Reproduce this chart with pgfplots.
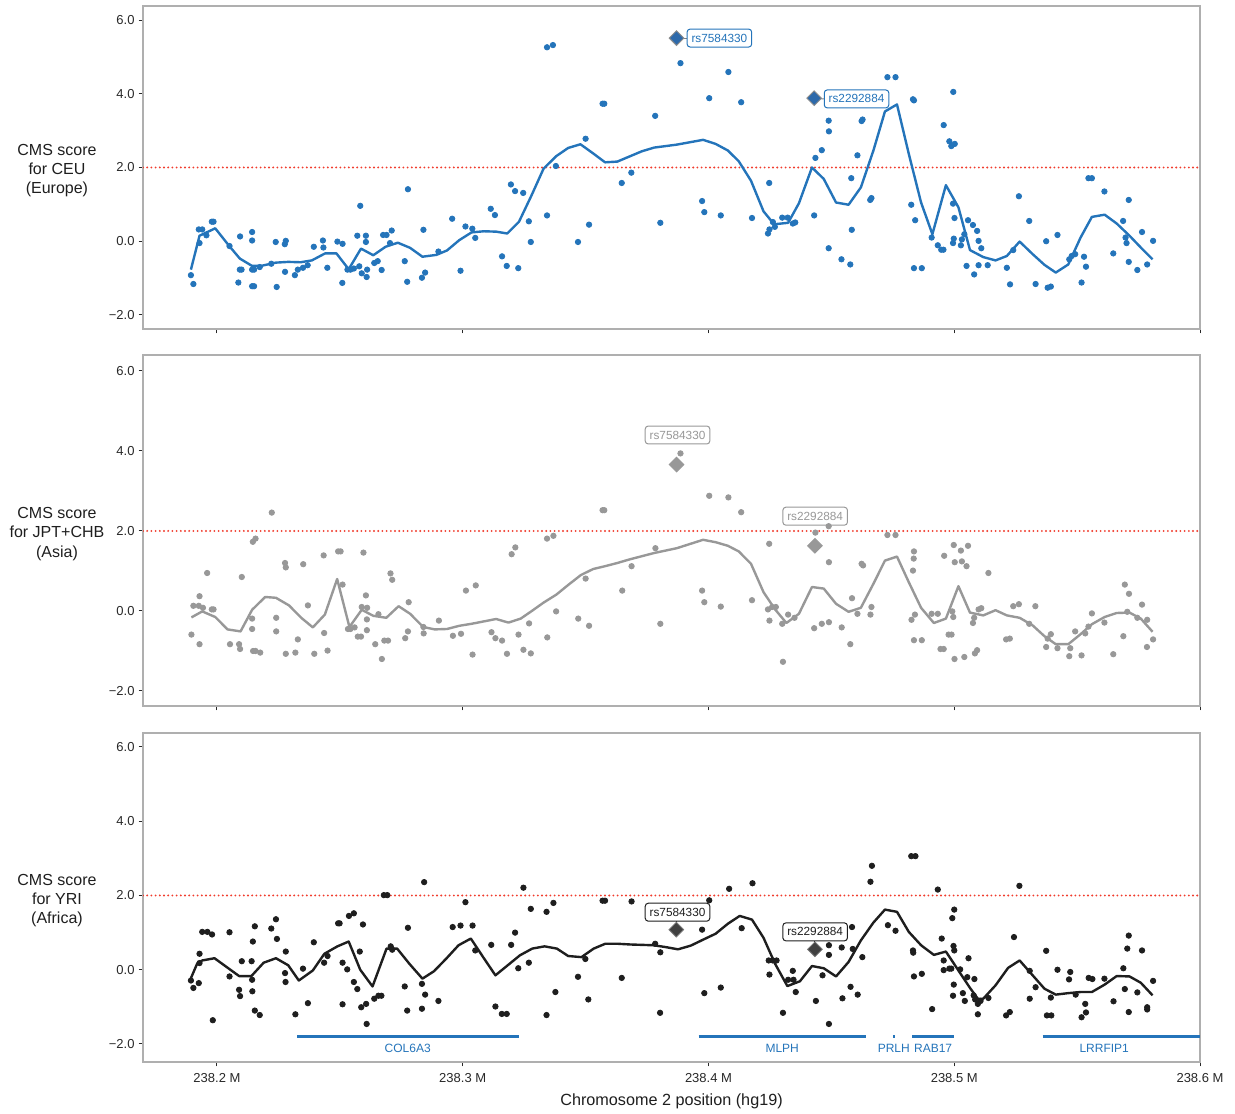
\documentclass[border=0pt]{standalone}
\usepackage{fontspec}
\setmainfont{Liberation Sans}
\usepackage{pgfplots}
\pgfplotsset{compat=1.18}
\definecolor{cblue}{RGB}{36,116,186}
\definecolor{cgray}{RGB}{152,152,152}
\definecolor{cblack}{RGB}{30,30,30}
\definecolor{dblue}{RGB}{45,105,170}
\definecolor{redl}{RGB}{240,60,45}
\definecolor{framec}{RGB}{175,175,175}
\definecolor{tickc}{RGB}{40,40,40}
\tikzset{rsbox/.style={draw, fill=white, rounded corners=1.5pt, line width=0.5pt, inner xsep=2.2pt, inner ysep=2.4pt, font=\fontsize{5.9}{6.5}\selectfont}}
\pgfplotsset{
  panel/.style={
    scale only axis, width=528.5pt, xmin=238.1699, xmax=238.6,
    axis line style={draw=framec, line width=0.6pt},
    tick align=outside, major tick length=2.2pt,
    tick style={draw=tickc, line width=0.5pt},
    xtick={238.2,238.3,238.4,238.5,238.6},
    ytick={-2,0,2,4,6},
    yticklabels={−2.0,0.0,2.0,4.0,6.0},
    xtick pos=bottom, ytick pos=left,
    ticklabel style={font=\fontsize{6.5}{7.5}\selectfont, text=tickc},
    y tick label style={xshift=1.5pt},
    every axis y label/.style={at={(axis description cs:-0.0814,0.49)}, anchor=center, align=center, font=\fontsize{8}{9.6}\selectfont, text=cblack},
  },
  pts/.style={only marks, mark=*, mark size=1.35pt},
  redline/.style={redl, line width=1.05pt, line cap=round, dash pattern=on 0pt off 2.1pt},
}
\begin{document}
\begin{tikzpicture}
\useasboundingbox (0,0) rectangle (617.5pt,556.5pt);
% ---------------- Panel 1: CEU ----------------
\begin{axis}[panel, at={(71.5pt,392pt)}, anchor=south west, height=161.5pt,
  ymin=-2.38, ymax=6.38, xticklabels={},
  ylabel={CMS score\\for CEU\\(Europe)}]
\addplot[redline] coordinates {(238.1699,2) (238.6,2)};
\addplot[pts, cblue] coordinates {
(238.1894,-0.92) (238.1904,-1.16) (238.1926,0.32) (238.1940,0.32) (238.1929,-0.05) (238.1957,0.16) (238.1979,0.53) (238.1986,0.53) (238.2051,-0.13) (238.2087,-1.12) (238.2093,-0.77) (238.2100,-0.77) (238.2094,0.13) (238.2143,0.25) (238.2143,0.02) (238.2143,-0.77) (238.2151,-0.77) (238.2143,-1.22) (238.2151,-1.22) (238.2174,-0.70) (238.2221,-0.61) (238.2239,-0.02) (238.2243,-1.24) (238.2276,-0.08) (238.2280,0.01) (238.2277,-0.83) (238.2317,-0.92) (238.2329,-0.77) (238.2350,-0.72) (238.2369,-0.65) (238.2394,-0.15) (238.2431,0.02) (238.2433,-0.17) (238.2449,-0.72) (238.2490,-0.01) (238.2511,-0.07) (238.2510,-1.13) (238.2531,-0.77) (238.2543,-0.77) (238.2557,-0.74) (238.2579,-0.68) (238.2571,0.15) (238.2583,0.96) (238.2606,0.15) (238.2606,-0.02) (238.2589,-0.87) (238.2609,-0.97) (238.2611,-0.77) (238.2640,-0.59) (238.2654,-0.54) (238.2670,-0.78) (238.2676,0.17) (238.2690,0.17) (238.2711,0.29) (238.2704,-0.05) (238.2764,-0.54) (238.2777,1.41) (238.2774,-1.10) (238.2840,0.31) (238.2847,-0.85) (238.2834,-0.99) (238.2901,-0.28) (238.2957,0.61) (238.2991,-0.80) (238.3011,0.40) (238.3039,0.34) (238.3051,0.09) (238.3114,0.88) (238.3131,0.71) (238.3160,-0.41) (238.3179,-0.67) (238.3226,-0.73) (238.3196,1.54) (238.3213,1.36) (238.3246,1.31) (238.3269,0.54) (238.3277,-0.02) (238.3343,5.26) (238.3367,5.32) (238.3343,0.70) (238.3379,2.04) (238.3469,-0.02) (238.3500,2.78) (238.3514,0.45) (238.3569,3.73) (238.3576,3.73) (238.3647,1.58) (238.3686,1.86) (238.3783,3.40) (238.3804,0.50) (238.3886,4.83)
(238.4081,4.59) (238.4003,3.88) (238.4133,3.77) (238.3974,1.09) (238.3983,0.79) (238.4050,0.70) (238.4177,0.63) (238.4247,1.58) (238.4242,0.21) (238.4248,0.32) (238.4262,0.52) (238.4270,0.39) (238.4300,0.64) (238.4322,0.64) (238.4343,0.48) (238.4353,0.51) (238.4430,0.70) (238.4435,2.26) (238.4461,2.47) (238.4489,3.27) (238.4490,2.98) (238.4489,-0.19) (238.4541,-0.49) (238.4577,-0.63) (238.4583,0.31) (238.4581,1.71) (238.4606,2.33) (238.4623,3.26) (238.4627,3.30) (238.4658,1.12) (238.4663,1.17) (238.4728,4.45) (238.4761,4.45) (238.4825,0.99) (238.4841,0.57) (238.4832,3.85) (238.4836,3.82) (238.4836,-0.73) (238.4868,-0.73) (238.4908,0.10) (238.4933,-0.11) (238.4947,-0.23) (238.4956,-0.23) (238.4957,3.15) (238.4980,2.71) (238.4988,2.58) (238.5002,2.64) (238.4996,4.05) (238.4995,1.02) (238.5001,0.63) (238.4998,0.07) (238.4995,-0.05) (238.5027,-0.11) (238.5031,0.05) (238.5041,0.19) (238.5056,0.57) (238.5076,0.44) (238.5093,0.28) (238.5099,0.01) (238.5110,-0.19) (238.5050,-0.67) (238.5081,-0.90) (238.5099,-0.65) (238.5136,-0.65) (238.5214,-0.72) (238.5227,-1.17) (238.5240,-0.24) (238.5263,1.22) (238.5305,0.55) (238.5331,-1.16) (238.5374,0.00) (238.5380,-1.26) (238.5393,-1.23) (238.5420,0.17) (238.5468,-0.49) (238.5478,-0.40) (238.5492,-0.35) (238.5518,-1.12) (238.5528,-0.42) (238.5536,-0.69) (238.5546,1.71) (238.5560,1.71) (238.5611,1.35) (238.5647,-0.33) (238.5687,0.55) (238.5697,0.10) (238.5701,-0.05) (238.5710,1.12) (238.5710,-0.56) (238.5745,-0.78) (238.5764,0.25) (238.5785,-0.63) (238.5809,0.01)
};
\addplot[cblue, line width=1.2pt, line join=round] coordinates {
(238.1894,-0.77) (238.1929,0.15) (238.1993,0.35) (238.2050,-0.13) (238.2093,-0.47) (238.2143,-0.67) (238.2179,-0.67) (238.2240,-0.58) (238.2290,-0.56) (238.2340,-0.57) (238.2386,-0.52) (238.2440,-0.33) (238.2486,-0.33) (238.2536,-0.76) (238.2586,-0.20) (238.2636,-0.38) (238.2686,-0.15) (238.2736,-0.04) (238.2786,-0.18) (238.2836,-0.42) (238.2893,-0.37) (238.2936,-0.25) (238.2986,0.03) (238.3036,0.24) (238.3086,0.27) (238.3136,0.26) (238.3181,0.21) (238.3229,0.53) (238.3279,1.23) (238.3329,1.97) (238.3381,2.31) (238.3429,2.53) (238.3479,2.63) (238.3529,2.39) (238.3579,2.14) (238.3629,2.16) (238.3679,2.30) (238.3729,2.44) (238.3779,2.54) (238.3871,2.62) (238.3978,2.75) (238.4029,2.64) (238.4079,2.46) (238.4123,2.17) (238.4173,1.64) (238.4224,0.81) (238.4267,0.46) (238.4324,0.50) (238.4368,1.03) (238.4421,2.00) (238.4469,1.69) (238.4519,1.05) (238.4570,0.99) (238.4620,1.46) (238.4671,2.46) (238.4718,3.52) (238.4767,3.71) (238.4815,2.37) (238.4865,1.05) (238.4911,0.19) (238.4966,1.52) (238.5017,0.92) (238.5064,-0.24) (238.5118,-0.43) (238.5168,-0.52) (238.5214,-0.40) (238.5266,-0.01) (238.5319,-0.35) (238.5367,-0.64) (238.5413,-0.85) (238.5464,-0.63) (238.5514,0.10) (238.5560,0.66) (238.5612,0.72) (238.5661,0.48) (238.5713,0.15) (238.5759,-0.17) (238.5807,-0.49)
};
\draw[gray, line width=0.5pt] (axis cs:238.387,5.51) -- (axis cs:238.3911,5.51);
\draw[gray, line width=0.5pt] (axis cs:238.443,3.88) -- (axis cs:238.4469,3.86);
\addplot[only marks, mark=square*, mark size=2.6pt, mark options={rotate=45, fill=dblue, draw=gray!90, line width=0.45pt}] coordinates {(238.387,5.51) (238.443,3.88)};
\node[rsbox, draw=cblue, text=cblue, anchor=west] at (axis cs:238.3911,5.51) {rs7584330};
\node[rsbox, draw=cblue, text=cblue, anchor=west] at (axis cs:238.4469,3.86) {rs2292884};
\end{axis}
% ---------------- Panel 2: JPT+CHB ----------------
\begin{axis}[panel, at={(71.5pt,203.5pt)}, anchor=south west, height=175.5pt,
  ymin=-2.375, ymax=6.4, xticklabels={},
  ylabel={CMS score\\for JPT+CHB\\(Asia)}]
\addplot[redline] coordinates {(238.1699,2) (238.6,2)};
\addplot[pts, cgray] coordinates {
(238.1896,-0.59) (238.1904,0.13) (238.1929,0.37) (238.1929,-0.83) (238.1926,0.13) (238.1943,0.08) (238.1960,0.95) (238.1979,0.04) (238.1986,0.04) (238.2053,-0.83) (238.2090,-0.83) (238.2094,-0.95) (238.2101,0.85) (238.2143,-0.19) (238.2143,-0.45) (238.2146,1.73) (238.2157,1.81) (238.2147,-1.00) (238.2157,-1.00) (238.2176,-1.04) (238.2223,2.46) (238.2241,-0.17) (238.2241,-0.51) (238.2277,1.20) (238.2280,1.09) (238.2280,-1.07) (238.2319,-1.04) (238.2329,-0.71) (238.2351,1.17) (238.2370,0.14) (238.2396,-1.07) (238.2434,1.39) (238.2436,-0.55) (238.2450,-0.99) (238.2493,1.49) (238.2503,1.49) (238.2511,0.66) (238.2533,-0.45) (238.2543,-0.45) (238.2560,-0.41) (238.2573,-0.64) (238.2586,-0.64) (238.2589,0.10) (238.2596,1.46) (238.2606,0.39) (238.2611,0.08) (238.2610,-0.21) (238.2610,-0.48) (238.2644,-0.83) (238.2657,-0.08) (238.2671,-1.20) (238.2681,-0.74) (238.2696,-0.74) (238.2706,0.94) (238.2713,0.78) (238.2766,-0.68) (238.2777,-0.51) (238.2780,0.22) (238.2840,-0.40) (238.2841,-0.56) (238.2903,-0.24) (238.2960,-0.62) (238.2993,-0.57) (238.3013,0.51) (238.3040,-1.09) (238.3053,0.64) (238.3117,-0.53) (238.3133,-0.68) (238.3160,-0.74) (238.3180,-1.07) (238.3199,1.42) (238.3214,1.59) (238.3227,-0.59) (238.3247,-0.97) (238.3270,-0.31) (238.3277,-1.06) (238.3343,1.81) (238.3369,1.88) (238.3344,-0.66) (238.3380,-0.01) (238.3470,-0.19) (238.3500,0.81) (238.3514,-0.37) (238.3569,2.52) (238.3576,2.52) (238.3649,0.51) (238.3687,1.12) (238.3784,1.57) (238.3804,-0.32) (238.3886,3.94)
(238.4003,2.88) (238.4081,2.84) (238.4133,2.47) (238.3974,0.51) (238.3983,0.22) (238.4050,0.11) (238.4177,0.27) (238.4247,1.68) (238.4242,0.04) (238.4248,-0.24) (238.4259,0.10) (238.4274,0.10) (238.4300,-0.32) (238.4303,-1.27) (238.4324,-0.09) (238.4350,-0.17) (238.4430,-0.43) (238.4435,1.96) (238.4461,-0.32) (238.4489,2.12) (238.4490,1.22) (238.4490,-0.28) (238.4542,-0.41) (238.4577,-0.83) (238.4584,0.32) (238.4606,-0.07) (238.4623,1.18) (238.4629,1.14) (238.4659,-0.09) (238.4663,0.10) (238.4728,1.90) (238.4761,1.90) (238.4826,-0.22) (238.4840,-0.09) (238.4836,1.49) (238.4835,1.31) (238.4832,1.01) (238.4836,-0.73) (238.4868,-0.73) (238.4908,-0.07) (238.4933,-0.07) (238.4944,-0.95) (238.4957,-0.95) (238.4959,1.38) (238.4977,-0.59) (238.4989,-0.59) (238.4992,-0.01) (238.4996,-0.15) (238.4998,1.65) (238.5001,-1.20) (238.5002,1.22) (238.5027,1.51) (238.5031,1.24) (238.5041,-1.15) (238.5050,1.12) (238.5056,1.63) (238.5076,-0.30) (238.5081,-0.17) (238.5084,-1.06) (238.5093,-0.98) (238.5099,0.04) (238.5110,0.07) (238.5139,0.95) (238.5211,-0.71) (238.5226,-0.69) (238.5240,0.12) (238.5263,0.17) (238.5305,-0.32) (238.5330,0.12) (238.5374,-0.90) (238.5380,-0.69) (238.5393,-0.58) (238.5420,-0.93) (238.5468,-1.13) (238.5472,-0.93) (238.5492,-0.51) (238.5518,-1.11) (238.5533,-0.56) (238.5546,-0.39) (238.5560,-0.06) (238.5611,-0.29) (238.5647,-1.08) (238.5688,-0.63) (238.5694,0.66) (238.5711,0.43) (238.5704,-0.02) (238.5745,-0.17) (238.5764,0.16) (238.5784,-0.90) (238.5785,-0.22) (238.5809,-0.71)
};
\addplot[cgray, line width=1.2pt, line join=round] coordinates {
(238.1896,-0.16) (238.1940,-0.01) (238.1993,-0.15) (238.2043,-0.46) (238.2096,-0.51) (238.2143,0.03) (238.2196,0.35) (238.2240,0.33) (238.2293,0.14) (238.2343,-0.17) (238.2390,-0.41) (238.2439,-0.09) (238.2489,0.80) (238.2539,-0.40) (238.2589,0.03) (238.2636,-0.12) (238.2689,-0.17) (238.2739,0.12) (238.2786,-0.07) (238.2839,-0.40) (238.2886,-0.46) (238.2936,-0.45) (238.2986,-0.37) (238.3036,-0.32) (238.3086,-0.26) (238.3136,-0.20) (238.3186,-0.29) (238.3236,-0.19) (238.3281,0.00) (238.3329,0.21) (238.3381,0.41) (238.3431,0.66) (238.3481,0.90) (238.3531,1.05) (238.3579,1.12) (238.3629,1.20) (238.3679,1.29) (238.3729,1.37) (238.3779,1.45) (238.3871,1.57) (238.3978,1.78) (238.4029,1.72) (238.4079,1.63) (238.4123,1.49) (238.4173,1.18) (238.4224,0.47) (238.4271,0.04) (238.4317,-0.30) (238.4368,-0.07) (238.4421,0.60) (238.4469,0.56) (238.4519,0.18) (238.4570,-0.02) (238.4620,0.08) (238.4671,0.68) (238.4718,1.26) (238.4767,1.36) (238.4815,0.72) (238.4865,0.08) (238.4917,-0.30) (238.4966,-0.19) (238.5017,0.62) (238.5064,-0.04) (238.5118,-0.11) (238.5168,0.02) (238.5214,-0.11) (238.5266,-0.17) (238.5319,-0.36) (238.5367,-0.63) (238.5413,-0.83) (238.5464,-0.83) (238.5514,-0.58) (238.5560,-0.33) (238.5612,-0.15) (238.5661,-0.05) (238.5713,-0.04) (238.5759,-0.19) (238.5807,-0.52)
};
\addplot[only marks, mark=square*, mark size=2.6pt, mark options={rotate=45, fill=cgray, draw=cgray}] coordinates {(238.387,3.66) (238.4433,1.63)};
\node[rsbox, draw=cgray, text=cgray] at (axis cs:238.3874,4.40) {rs7584330};
\node[rsbox, draw=cgray, text=cgray] at (axis cs:238.4434,2.37) {rs2292884};
\end{axis}
% ---------------- Panel 3: YRI ----------------
\begin{axis}[panel, at={(71.5pt,25.5pt)}, anchor=south west, height=164.5pt,
  ymin=-2.485, ymax=6.377,
  xticklabels={238.2 M,238.3 M,238.4 M,238.5 M,238.6 M},
  ylabel={CMS score\\for YRI\\(Africa)},
  xlabel={Chromosome 2 position (hg19)},
  every axis x label/.style={at={(axis description cs:0.5,-0.1185)}, anchor=center, font=\fontsize{8.1}{9}\selectfont, text=cblack}]
\addplot[redline] coordinates {(238.1699,2) (238.6,2)};
\addplot[pts, cblack] coordinates {
(238.1894,-0.29) (238.1904,-0.49) (238.1926,-0.36) (238.1929,0.43) (238.1929,0.18) (238.1940,1.02) (238.1961,1.02) (238.1980,0.95) (238.1983,-1.36) (238.2051,1.01) (238.2051,-0.18) (238.2090,-0.54) (238.2094,-0.71) (238.2101,0.23) (238.2141,0.23) (238.2143,-0.27) (238.2144,-0.58) (238.2146,0.76) (238.2154,1.17) (238.2154,-1.10) (238.2174,-1.22) (238.2221,1.11) (238.2240,1.36) (238.2244,0.83) (238.2280,0.49) (238.2277,-0.09) (238.2279,-0.33) (238.2319,-1.20) (238.2350,0.03) (238.2370,-0.90) (238.2394,0.74) (238.2436,0.19) (238.2450,0.37) (238.2493,1.25) (238.2499,1.25) (238.2511,0.19) (238.2511,-0.93) (238.2530,0.01) (238.2537,1.45) (238.2557,1.52) (238.2557,-0.33) (238.2571,-0.52) (238.2581,0.49) (238.2594,1.22) (238.2587,-1.01) (238.2607,-0.92) (238.2609,-1.46) (238.2640,-0.78) (238.2657,-0.70) (238.2669,-0.70) (238.2679,2.01) (238.2693,2.01) (238.2707,0.63) (238.2713,0.54) (238.2764,-0.45) (238.2774,-1.10) (238.2777,1.13) (238.2834,-0.38) (238.2834,-1.05) (238.2843,2.36) (238.2847,-0.67) (238.2901,-0.84) (238.2959,1.15) (238.2991,1.19) (238.3011,1.82) (238.3040,1.19) (238.3051,0.52) (238.3116,0.67) (238.3133,-0.99) (238.3159,-1.19) (238.3179,-1.19) (238.3197,0.67) (238.3213,1.00) (238.3226,0.04) (238.3247,2.21) (238.3269,0.19) (238.3277,1.64) (238.3341,1.56) (238.3341,-1.22) (238.3369,1.80) (238.3377,-0.60) (238.3469,-0.19) (238.3499,0.29) (238.3511,-0.80) (238.3569,1.86) (238.3579,1.86) (238.3647,-0.22) (238.3687,1.84) (238.3783,0.70) (238.3804,0.47) (238.3803,-1.16)
(238.4003,1.87) (238.3974,1.08) (238.3983,-0.63) (238.4050,-0.48) (238.4084,2.18) (238.4135,1.12) (238.4179,2.33) (238.4245,0.25) (238.4248,-0.13) (238.4262,0.25) (238.4277,0.25) (238.4303,-1.16) (238.4324,-0.27) (238.4343,-0.03) (238.4346,-0.27) (238.4355,-0.60) (238.4437,-0.84) (238.4464,-0.15) (238.4490,0.66) (238.4490,0.40) (238.4490,-1.46) (238.4542,0.60) (238.4545,-0.77) (238.4578,-0.46) (238.4584,1.15) (238.4587,0.56) (238.4607,-0.67) (238.4626,0.34) (238.4659,2.37) (238.4665,2.80) (238.4730,1.20) (238.4761,1.05) (238.4825,3.06) (238.4842,3.06) (238.4832,0.52) (238.4833,0.46) (238.4836,-0.18) (238.4868,-0.11) (238.4910,-1.06) (238.4933,2.16) (238.4949,0.84) (238.4957,0.25) (238.4957,-0.01) (238.4980,0.03) (238.4988,0.03) (238.4992,1.39) (238.5000,1.62) (238.4997,0.64) (238.5000,0.52) (238.4998,-0.40) (238.4995,-0.70) (238.5024,0.01) (238.5035,-0.63) (238.5043,-0.84) (238.5053,-0.20) (238.5058,0.31) (238.5082,-0.25) (238.5079,-0.69) (238.5085,-0.80) (238.5096,-0.92) (238.5107,-0.84) (238.5096,-1.20) (238.5139,-0.76) (238.5211,-1.23) (238.5226,-1.14) (238.5243,0.88) (238.5265,2.26) (238.5307,-0.03) (238.5307,-0.78) (238.5331,-0.47) (238.5374,0.51) (238.5377,-1.23) (238.5395,-1.23) (238.5393,-0.75) (238.5420,0.00) (238.5467,-0.26) (238.5472,-0.06) (238.5494,-0.67) (238.5518,-1.28) (238.5533,-0.92) (238.5536,-1.15) (238.5547,-0.22) (238.5562,-0.25) (238.5611,-0.24) (238.5648,-0.85) (238.5688,0.04) (238.5694,-0.52) (238.5704,0.57) (238.5710,0.92) (238.5710,-1.14) (238.5745,-0.61) (238.5764,0.52) (238.5785,-1.01) (238.5785,-1.07) (238.5809,-0.30)
};
\addplot[cblack, line width=1.2pt, line join=round] coordinates {
(238.1890,-0.29) (238.1919,0.16) (238.1940,0.25) (238.1990,0.31) (238.2040,0.07) (238.2090,-0.17) (238.2140,-0.17) (238.2190,0.19) (238.2240,0.31) (238.2290,0.12) (238.2333,-0.29) (238.2390,-0.02) (238.2437,0.43) (238.2490,0.63) (238.2536,0.76) (238.2583,0.00) (238.2633,-0.45) (238.2690,0.57) (238.2733,0.57) (238.2783,0.16) (238.2836,-0.24) (238.2883,-0.04) (238.2933,0.30) (238.2983,0.66) (238.3033,0.84) (238.3083,0.34) (238.3133,-0.15) (238.3183,0.12) (238.3233,0.39) (238.3283,0.57) (238.3333,0.63) (238.3383,0.57) (238.3429,0.37) (238.3483,0.34) (238.3533,0.57) (238.3580,0.70) (238.3630,0.70) (238.3683,0.68) (238.3776,0.66) (238.3826,0.61) (238.3876,0.55) (238.3928,0.65) (238.3978,0.81) (238.4029,0.97) (238.4079,1.24) (238.4127,1.45) (238.4177,1.35) (238.4224,0.86) (238.4271,0.16) (238.4321,-0.44) (238.4372,-0.31) (238.4421,0.10) (238.4469,0.04) (238.4519,-0.18) (238.4570,0.21) (238.4620,0.79) (238.4671,1.27) (238.4718,1.62) (238.4767,1.56) (238.4815,1.02) (238.4865,0.66) (238.4917,0.40) (238.4966,0.49) (238.5017,-0.02) (238.5064,-0.49) (238.5096,-0.78) (238.5118,-0.78) (238.5168,-0.42) (238.5219,0.05) (238.5266,0.25) (238.5319,-0.15) (238.5367,-0.51) (238.5413,-0.67) (238.5464,-0.63) (238.5514,-0.60) (238.5560,-0.60) (238.5612,-0.40) (238.5661,-0.17) (238.5713,-0.18) (238.5759,-0.35) (238.5807,-0.69)
};
\draw[cblack, line width=0.5pt] (axis cs:238.3869,1.33) -- (axis cs:238.3869,1.08);
\draw[cblack, line width=0.5pt] (axis cs:238.4433,0.80) -- (axis cs:238.4433,0.55);
\addplot[only marks, mark=square*, mark size=2.6pt, mark options={rotate=45, fill=cblack!85, draw=cblack!60}] coordinates {(238.3869,1.08) (238.4433,0.55)};
\node[rsbox, draw=cblack, text=cblack] at (axis cs:238.3874,1.55) {rs7584330};
\node[rsbox, draw=cblack, text=cblack] at (axis cs:238.4434,1.02) {rs2292884};
% gene track
\addplot[cblue, line width=1.9pt] coordinates {(238.2326,-1.8) (238.3230,-1.8)};
\addplot[cblue, line width=1.9pt] coordinates {(238.3960,-1.8) (238.4642,-1.8)};
\addplot[cblue, line width=1.9pt] coordinates {(238.4750,-1.8) (238.4758,-1.8)};
\addplot[cblue, line width=1.9pt] coordinates {(238.4829,-1.8) (238.5000,-1.8)};
\addplot[cblue, line width=1.9pt] coordinates {(238.5360,-1.8) (238.6000,-1.8)};
\node[text=cblue, font=\fontsize{6}{7}\selectfont] at (axis cs:238.2776,-2.11) {COL6A3};
\node[text=cblue, font=\fontsize{6}{7}\selectfont] at (axis cs:238.4300,-2.11) {MLPH};
\node[text=cblue, font=\fontsize{6}{7}\selectfont] at (axis cs:238.4754,-2.11) {PRLH};
\node[text=cblue, font=\fontsize{6}{7}\selectfont] at (axis cs:238.4914,-2.11) {RAB17};
\node[text=cblue, font=\fontsize{6}{7}\selectfont] at (axis cs:238.5610,-2.11) {LRRFIP1};
\end{axis}
\end{tikzpicture}
\end{document}
